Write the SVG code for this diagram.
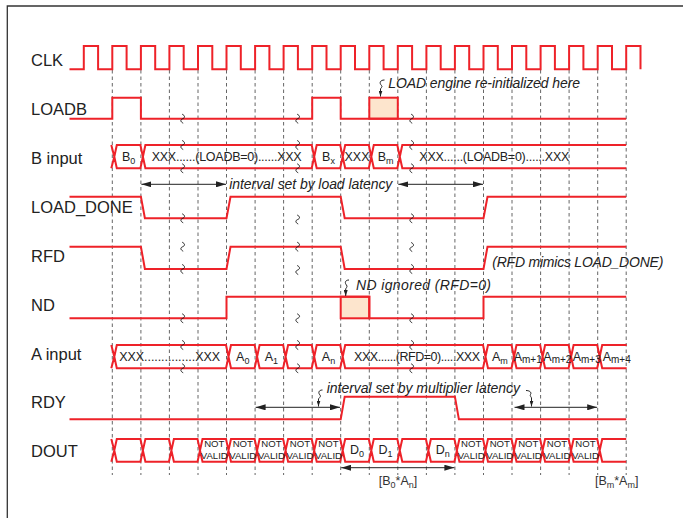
<svg xmlns="http://www.w3.org/2000/svg" xmlns:xlink="http://www.w3.org/1999/xlink" width="683" height="518" viewBox="0 0 683 518">
<style>
.w{fill:none;stroke:#ee2229;stroke-width:2;stroke-linejoin:miter}
.g{fill:none;stroke:#555;stroke-width:0.9;stroke-dasharray:3.5 3}
.lbl{font-family:"Liberation Sans",Arial,sans-serif;font-size:16.5px;fill:#222}
.bt{font-family:"Liberation Sans",Arial,sans-serif;font-size:12.5px;fill:#222}
.mid{text-anchor:middle}
.sub{font-size:9px}
.sub2{font-size:10px}
.nv{font-family:"Liberation Sans",Arial,sans-serif;font-size:9.6px;fill:#222;text-anchor:middle}
.ann{font-family:"Liberation Sans",Arial,sans-serif;font-style:italic;font-size:14px;fill:#222}
.brk{fill:none;stroke:#111;stroke-width:0.9}
.arr{fill:none;stroke:#222;stroke-width:1}
.shade{fill:#fde5cd;stroke:#ee2229;stroke-width:2}
.frame{fill:none;stroke:#333;stroke-width:1.3}
</style>
<defs>
<marker id="ah" viewBox="0 0 10 6" refX="10" refY="3" markerWidth="10" markerHeight="6" markerUnits="userSpaceOnUse" orient="auto-start-reverse">
<path d="M0 0 L10 3 L0 6 Z" fill="#222"/>
</marker>
<marker id="ahs" viewBox="0 0 6 4" refX="6" refY="2" markerWidth="6" markerHeight="4" markerUnits="userSpaceOnUse" orient="auto">
<path d="M0 0 L6 2 L0 4 Z" fill="#222"/>
</marker>
<path id="brk" d="M-0.5 -4.5 C2.5 -3 2.5 -1 0 0 C-2.5 1 -2.5 3 0.5 4.5"/>
</defs>
<rect width="683" height="518" fill="#fff"/>
<path class="frame" d="M683 6 H7.3 V518"/>

<g id="gridlines">
<path class="g" d="M112.3 70V475M140.9 70V475M169.4 70V475M198 70V475M226.5 70V475M255.1 70V475M283.6 70V475M312.2 70V475M340.7 70V475M369.3 70V475M397.8 70V475M426.4 70V475M454.9 70V475M483.5 70V475M512 70V475M540.6 70V475M569.1 70V475M597.7 70V475M626.2 70V475"/>
</g>

<g id="clk">
<text class="lbl" x="31" y="66">CLK</text>
<path class="w" d="M69.5 69.3 H83.8 V46 H98.1 V69.3 H112.3 V46 H126.6 V69.3 H140.9 V46 H155.2 V69.3 H169.4 V46 H183.7 V69.3 H198 V46 H212.3 V69.3 H226.5 V46 H240.8 V69.3 H255.1 V46 H269.4 V69.3 H283.6 V46 H297.9 V69.3 H312.2 V46 H326.5 V69.3 H340.7 V46 H355 V69.3 H369.3 V46 H383.6 V69.3 H397.8 V46 H412.1 V69.3 H426.4 V46 H440.7 V69.3 H454.9 V46 H469.2 V69.3 H483.5 V46 H497.8 V69.3 H512 V46 H526.3 V69.3 H540.6 V46 H554.9 V69.3 H569.1 V46 H583.4 V69.3 H597.7 V46 H612 V69.3 H626.2 V46 H640.5 V69.3"/>
</g>

<g id="loadb">
<text class="lbl" x="31" y="115">LOADB</text>
<rect class="shade" x="369.3" y="97.7" width="28.5" height="21"/>
<path class="w" d="M69.5 118.7 H112.3 V97.7 H140.9 V118.7 H312.2 V97.7 H340.7 V118.7 H626.2"/>
<g class="brk"><use xlink:href="#brk" x="182.7" y="118.7"/><use xlink:href="#brk" x="297.7" y="118.7"/><use xlink:href="#brk" x="411.7" y="118.7"/></g>
<text class="ann" x="388.3" y="88.3" textLength="191.7">LOAD engine re-initialized here</text>
</g>

<g id="binput">
<text class="lbl" x="31" y="164">B input</text>
<path class="w" d="M111.3 145 L114.3 156.7 L111.3 168.3
M114.3 156.7 L116.8 145 H140.4 L142.9 156.7 L140.4 168.3 H116.8 Z
M142.9 156.7 L145.4 145 H311.7 L314.2 156.7 L311.7 168.3 H145.4 Z
M314.2 156.7 L316.7 145 H340.2 L342.7 156.7 L340.2 168.3 H316.7 Z
M342.7 156.7 L345.2 145 H368.8 L371.3 156.7 L368.8 168.3 H345.2 Z
M371.3 156.7 L373.8 145 H397.3 L399.8 156.7 L397.3 168.3 H373.8 Z
M626.2 145 H402.3 L399.8 156.7 L402.3 168.3 H626.2"/>
<g class="brk"><use xlink:href="#brk" x="182.7" y="145"/><use xlink:href="#brk" x="182.7" y="168.3"/><use xlink:href="#brk" x="297.7" y="145"/><use xlink:href="#brk" x="297.7" y="168.3"/><use xlink:href="#brk" x="411.7" y="145"/><use xlink:href="#brk" x="411.7" y="168.3"/></g>
<text class="bt mid" x="128.6" y="160.7">B<tspan class="sub" dy="3">0</tspan></text>
<text class="bt" x="151.7" y="160.7" textLength="150">XXX......(LOADB=0)......XXX</text>
<text class="bt mid" x="328.5" y="160.7">B<tspan class="sub" dy="3">x</tspan></text>
<text class="bt mid" x="357" y="160.7">XXX</text>
<text class="bt mid" x="385.6" y="160.7">B<tspan class="sub" dy="3">m</tspan></text>
<text class="bt" x="419.3" y="160.7" textLength="150">XXX......(LOADB=0)......XXX</text>
</g>

<g id="load_done">
<text class="lbl" x="31" y="213.3">LOAD_DONE</text>
<path class="w" d="M69.5 196.7 H140.9 L144.9 218.3 H226.5 L230.5 196.7 H340.7 L344.7 218.3 H483.5 L487.5 196.7 H626.2"/>
<g class="brk"><use xlink:href="#brk" x="182.7" y="218.3"/><use xlink:href="#brk" x="297.7" y="219.5"/><use xlink:href="#brk" x="411.7" y="218.3"/></g>
</g>

<g id="rfd">
<text class="lbl" x="31" y="262">RFD</text>
<path class="w" d="M69.5 246.7 H140.9 L144.9 269 H226.5 L230.5 246.7 H340.7 L344.7 269 H483.5 L487.5 246.7 H626.2"/>
<g class="brk"><use xlink:href="#brk" x="182.7" y="246.7"/><use xlink:href="#brk" x="182.7" y="269"/><use xlink:href="#brk" x="297.7" y="246.7"/><use xlink:href="#brk" x="297.7" y="270"/><use xlink:href="#brk" x="411.7" y="247"/><use xlink:href="#brk" x="411.7" y="269"/></g>
<text class="ann" x="492.3" y="267" textLength="171">(RFD mimics LOAD_DONE)</text>
</g>

<g id="nd">
<text class="lbl" x="31" y="310.7">ND</text>
<rect class="shade" x="340.7" y="296.7" width="28.6" height="21.6"/>
<path class="w" d="M69.5 318.3 H226.5 V296.7 H369.3 V318.3 H483.5 V296.7 H626.2"/>
<g class="brk"><use xlink:href="#brk" x="182.7" y="318.3"/><use xlink:href="#brk" x="297.7" y="318.3"/><use xlink:href="#brk" x="411.7" y="318.3"/></g>
<text class="ann" x="356" y="289.5" textLength="135">ND ignored (RFD=0)</text>
</g>

<g id="ainput">
<text class="lbl" x="31" y="360">A input</text>
<path class="w" d="M111.3 345 L114.3 356.7 L111.3 368.3
M114.3 356.7 L116.8 345 H226 L228.5 356.7 L226 368.3 H116.8 Z
M228.5 356.7 L231 345 H254.6 L257.1 356.7 L254.6 368.3 H231 Z
M257.1 356.7 L259.6 345 H283.1 L285.6 356.7 L283.1 368.3 H259.6 Z
M285.6 356.7 L288.1 345 H311.7 L314.2 356.7 L311.7 368.3 H288.1 Z
M314.2 356.7 L316.7 345 H340.2 L342.7 356.7 L340.2 368.3 H316.7 Z
M342.7 356.7 L345.2 345 H483 L485.5 356.7 L483 368.3 H345.2 Z
M485.5 356.7 L488 345 H511.5 L514 356.7 L511.5 368.3 H488 Z
M514 356.7 L516.5 345 H540.1 L542.6 356.7 L540.1 368.3 H516.5 Z
M542.6 356.7 L545.1 345 H568.6 L571.1 356.7 L568.6 368.3 H545.1 Z
M571.1 356.7 L573.6 345 H597.2 L599.7 356.7 L597.2 368.3 H573.6 Z
M626.7 345 H602.2 L599.7 356.7 L602.2 368.3 H626.7"/>
<g class="brk"><use xlink:href="#brk" x="182.7" y="345"/><use xlink:href="#brk" x="182.7" y="368.3"/><use xlink:href="#brk" x="297.7" y="345"/><use xlink:href="#brk" x="297.7" y="368.3"/><use xlink:href="#brk" x="411.7" y="345"/><use xlink:href="#brk" x="411.7" y="368.3"/></g>
<text class="bt" x="119.3" y="360.7" textLength="100.7">XXX...............XXX</text>
<text class="bt mid" x="242.8" y="360.7">A<tspan class="sub" dy="3">0</tspan></text>
<text class="bt mid" x="271.4" y="360.7">A<tspan class="sub" dy="3">1</tspan></text>
<text class="bt mid" x="328.5" y="360.7">A<tspan class="sub" dy="3">n</tspan></text>
<text class="bt" x="354" y="360.7" textLength="126">XXX......(RFD=0).....XXX</text>
<text class="bt mid" x="499.8" y="360.7">A<tspan class="sub" dy="3">m</tspan></text>
<text class="bt" x="513.7" y="360.7">A<tspan class="sub2" dy="2.5">m+1</tspan></text>
<text class="bt" x="543.3" y="360.7">A<tspan class="sub2" dy="2.5">m+2</tspan></text>
<text class="bt" x="572.7" y="360.7">A<tspan class="sub2" dy="2.5">m+3</tspan></text>
<text class="bt" x="602.7" y="360.7">A<tspan class="sub2" dy="2.5">m+4</tspan></text>
</g>

<g id="rdy">
<text class="lbl" x="31" y="408.3">RDY</text>
<path class="w" d="M69.5 419.3 H340.7 L344.7 396.7 H454.9 L458.9 419.3 H626.2"/>
<text class="ann" x="326.7" y="393.3" textLength="193.3">interval set by multiplier latency</text>
</g>

<g id="dout">
<text class="lbl" x="31" y="456.5">DOUT</text>
<path class="w" d="M111.3 439 L114.3 450.4 L111.3 461.7
M114.3 450.4 L116.8 439 H140.4 L142.9 450.4 L140.4 461.7 H116.8 Z
M142.9 450.4 L145.4 439 H168.9 L171.4 450.4 L168.9 461.7 H145.4 Z
M171.4 450.4 L173.9 439 H197.5 L200 450.4 L197.5 461.7 H173.9 Z
M200 450.4 L202.5 439 H226 L228.5 450.4 L226 461.7 H202.5 Z
M228.5 450.4 L231 439 H254.6 L257.1 450.4 L254.6 461.7 H231 Z
M257.1 450.4 L259.6 439 H283.1 L285.6 450.4 L283.1 461.7 H259.6 Z
M285.6 450.4 L288.1 439 H311.7 L314.2 450.4 L311.7 461.7 H288.1 Z
M314.2 450.4 L316.7 439 H340.2 L342.7 450.4 L340.2 461.7 H316.7 Z
M342.7 450.4 L345.2 439 H368.8 L371.3 450.4 L368.8 461.7 H345.2 Z
M371.3 450.4 L373.8 439 H397.3 L399.8 450.4 L397.3 461.7 H373.8 Z
M399.8 450.4 L402.3 439 H425.9 L428.4 450.4 L425.9 461.7 H402.3 Z
M428.4 450.4 L430.9 439 H454.4 L456.9 450.4 L454.4 461.7 H430.9 Z
M456.9 450.4 L459.4 439 H483 L485.5 450.4 L483 461.7 H459.4 Z
M485.5 450.4 L488 439 H511.5 L514 450.4 L511.5 461.7 H488 Z
M514 450.4 L516.5 439 H540.1 L542.6 450.4 L540.1 461.7 H516.5 Z
M542.6 450.4 L545.1 439 H568.6 L571.1 450.4 L568.6 461.7 H545.1 Z
M571.1 450.4 L573.6 439 H597.2 L599.7 450.4 L597.2 461.7 H573.6 Z
M626.2 439 H602.2 L599.7 450.4 L602.2 461.7 H626.2"/>
<g class="nv">
<text x="214.3" y="447.3">NOT</text><text x="214.3" y="459">VALID</text>
<text x="242.8" y="447.3">NOT</text><text x="242.8" y="459">VALID</text>
<text x="271.4" y="447.3">NOT</text><text x="271.4" y="459">VALID</text>
<text x="299.9" y="447.3">NOT</text><text x="299.9" y="459">VALID</text>
<text x="328.5" y="447.3">NOT</text><text x="328.5" y="459">VALID</text>
<text x="471.2" y="447.3">NOT</text><text x="471.2" y="459">VALID</text>
<text x="499.8" y="447.3">NOT</text><text x="499.8" y="459">VALID</text>
<text x="528.3" y="447.3">NOT</text><text x="528.3" y="459">VALID</text>
<text x="556.9" y="447.3">NOT</text><text x="556.9" y="459">VALID</text>
<text x="585.4" y="447.3">NOT</text><text x="585.4" y="459">VALID</text>
</g>
<text class="bt mid" x="357" y="454">D<tspan class="sub" dy="3">0</tspan></text>
<text class="bt mid" x="385.6" y="454">D<tspan class="sub" dy="3">1</tspan></text>
<text class="bt mid" x="442.7" y="454">D<tspan class="sub" dy="3">n</tspan></text>
<text class="bt mid" x="398" y="485" style="fill:#333">[B<tspan class="sub" dy="3">0</tspan><tspan dy="-3">*A</tspan><tspan class="sub" dy="3">n</tspan><tspan dy="-3">]</tspan></text>
<text class="bt mid" x="616.7" y="485" style="fill:#333">[B<tspan class="sub" dy="3">m</tspan><tspan dy="-3">*A</tspan><tspan class="sub" dy="3">m</tspan><tspan dy="-3">]</tspan></text>
</g>

<g id="connectors">
<path class="arr" d="M141.4 184.3 H226" marker-start="url(#ah)" marker-end="url(#ah)"/>
<text class="ann" x="229.3" y="189.3" textLength="163">interval set by load latency</text>
<path class="arr" d="M398.3 184.3 H483" marker-start="url(#ah)" marker-end="url(#ah)"/>
<path class="arr" d="M255.6 407.3 H340" marker-start="url(#ah)" marker-end="url(#ah)"/>
<path class="arr" d="M514.5 407.3 H597.2" marker-start="url(#ah)" marker-end="url(#ah)"/>
<path class="arr" d="M341.2 467.7 H454.4" marker-start="url(#ah)" marker-end="url(#ah)"/>
<path class="arr" d="M384.5 80 C380 80 379 83 381.5 85.5 C383 87 380.5 88 380.5 89 L380.5 96.5" marker-end="url(#ahs)"/>
<path class="arr" d="M349 280 C345 280 344.5 283 346.5 285 C348 287 345.7 288 345.7 289 L345.7 296" marker-end="url(#ahs)"/>
<path class="arr" d="M322.5 390 C318.5 390 318 393 320 395 C321.5 397 318.5 398 318.5 399 L318.5 406.5" marker-end="url(#ahs)"/>
<path class="arr" d="M526 390.5 C529 390.5 532 392 530.5 394.5 C529.5 396 531.5 397 531.5 398 L531.5 406.5" marker-end="url(#ahs)"/>
</g>
</svg>
